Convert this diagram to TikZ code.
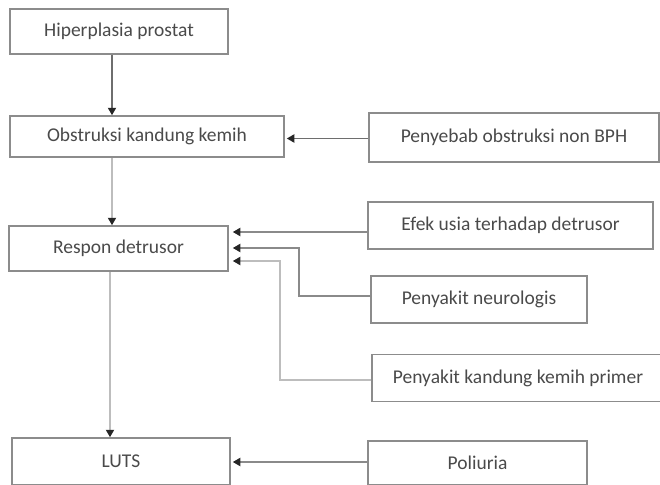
\documentclass[tikz,border=0pt]{standalone}
\usepackage{fontspec}
\setmainfont{Carlito}
\usetikzlibrary{calc,arrows.meta}
\definecolor{boxline}{HTML}{8C8C8C}
\definecolor{txt}{HTML}{4A4A4A}
\definecolor{lnA}{HTML}{6E6E6E}
\definecolor{lnB}{HTML}{BDBDBD}
\definecolor{lnC}{HTML}{8A8A8A}
\tikzset{
  box/.style={draw=boxline, line width=1.5pt, fill=white, text=txt, inner sep=0pt,
    font=\fontsize{19.5}{23}\selectfont},
  conn/.style={line width=1.8pt, -{Triangle[length=7.5pt,width=8pt,color=black!85,fill=black!85]}},
}
\begin{document}
\begin{tikzpicture}[x=1pt,y=-1pt]
\useasboundingbox (0,0) rectangle (660,484);
\begin{scope}
\clip (0,0) rectangle (660,484);
\node[box, minimum width=218pt, minimum height=45pt] (b1) at (119,31.5) {Hiperplasia prostat};
\node[box, minimum width=274pt, minimum height=41pt] (b2) at (147,136.5) {Obstruksi kandung kemih};
\node[box, minimum width=219pt, minimum height=45pt] (b3) at (118.5,248.5) {Respon detrusor};
\node[box, minimum width=218pt, minimum height=47pt] (b4) at (121,461.5) {LUTS};
\node[box, minimum width=290pt, minimum height=49pt] (pn) at (514,137.5) {Penyebab obstruksi non BPH};
\node[box, minimum width=285pt, minimum height=47pt] (ef) at (510.5,225.5) {Efek usia terhadap detrusor};
\node[box, minimum width=216pt, minimum height=47pt] (nl) at (479,299.5) {Penyakit neurologis};
\node[box, minimum width=292pt, minimum height=47pt] (pk) at (518,378) {Penyakit kandung kemih primer};
\node[box, minimum width=219pt, minimum height=44pt] (po) at (477.5,463) {Poliuria};
\end{scope}
% connector points
\coordinate (a1) at ($(b1.south)+(-7,0)$);
\coordinate (a1e) at (a1 |- b2.north);
\coordinate (a2) at ($(b2.south)+(-35,0)$);
\coordinate (a2e) at (a2 |- b3.north);
\coordinate (a3) at ($(b3.south)+(-8.5,0)$);
\coordinate (a3e) at (a3 |- b4.north);
\coordinate (pns) at ($(pn.west)+(0,1)$);
\coordinate (pne) at (pns -| b2.east);
\coordinate (efs) at ($(ef.west)+(0,6.5)$);
\coordinate (efe) at (efs -| b3.east);
\coordinate (nls) at ($(nl.west)+(0,-3.5)$);
\coordinate (nlk) at ($(nls)+(-71,0)$);
\coordinate (nlk2) at ($(nlk)+(0,-48)$);
\coordinate (nle) at (nlk2 -| b3.east);
\coordinate (pks) at ($(pk.west)+(0,2)$);
\coordinate (pkk) at ($(pks)+(-91,0)$);
\coordinate (pkk2) at ($(pkk)+(0,-119)$);
\coordinate (pke) at (pkk2 -| b3.east);
\coordinate (pos) at ($(po.west)+(0,-1)$);
\coordinate (poe) at (pos -| b4.east);
% vertical connectors
\draw[conn, lnA] (a1) -- (a1e);
\draw[conn, lnB] (a2) -- (a2e);
\draw[conn, lnB] (a3) -- (a3e);
% horizontal connectors
\draw[conn, lnA, shorten >=2pt] (pns) -- (pne);
\draw[conn, lnC, shorten >=4pt] (efs) -- (efe);
\draw[conn, lnC, shorten >=4pt] (nls) -- (nlk) -- (nlk2) -- (nle);
\draw[conn, lnB, shorten >=4pt] (pks) -- (pkk) -- (pkk2) -- (pke);
\draw[conn, lnC, shorten >=2pt] (pos) -- (poe);
\end{tikzpicture}
\end{document}
